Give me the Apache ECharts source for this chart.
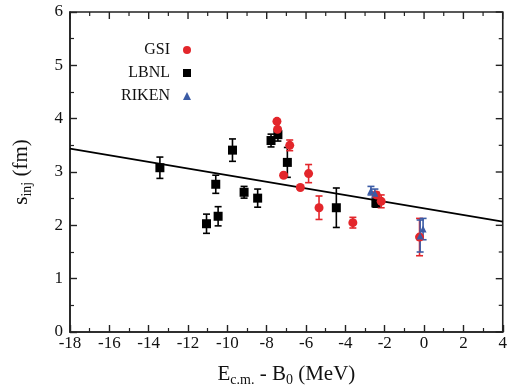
<!DOCTYPE html>
<html>
<head>
<meta charset="utf-8">
<script src="https://cdn.jsdelivr.net/npm/echarts@6/dist/echarts.min.js"></script>
<style>html,body{margin:0;padding:0;background:#fff}#c{width:510px;height:392px}</style>
</head>
<body>
<div id="c"></div>
<script>
// ---- data ----
var gsiX   = [-7.48, -7.45, -6.83, -7.14, -6.29, -5.87, -5.34, -3.62, -2.43, -2.18, -0.23];
var gsiY   = [3.95, 3.80, 3.50, 2.94, 2.71, 2.97, 2.33, 2.05, 2.57, 2.45, 1.78];
var gsiErr = [0.03, 0.03, 0.10, 0.03, 0.03, 0.17, 0.22, 0.10, 0.05, 0.12, 0.35];

var lbnlX   = [-13.43, -11.06, -10.59, -10.47, -9.74, -9.15, -8.46, -7.78, -7.43, -6.95, -4.46, -2.45];
var lbnlY   = [3.08, 2.03, 2.77, 2.17, 3.41, 2.62, 2.51, 3.59, 3.70, 3.18, 2.33, 2.42];
var lbnlErr = [0.20, 0.18, 0.17, 0.18, 0.21, 0.11, 0.17, 0.12, 0.12, 0.28, 0.37, 0.08];

var rikenX   = [-2.70, -2.50, -0.20, -0.05];
var rikenY   = [2.65, 2.60, 1.80, 1.93];
var rikenErr = [0.08, 0.08, 0.30, 0.20];

var fitX = [-18, 4];
var fitY = [3.44, 2.07];

var xTicks = [-18, -16, -14, -12, -10, -8, -6, -4, -2, 0, 2, 4];
var yTicks = [0, 1, 2, 3, 4, 5, 6];

// ---- chart ----
var RED = '#e3262b', BLACK = '#000000', BLUE = '#3b5ba5';
var FONT = '"Liberation Serif", "DejaVu Serif", serif';
var AX = '#222';
var X0 = xTicks[0], X1 = xTicks[xTicks.length - 1];
var Y0 = yTicks[0], Y1 = yTicks[yTicks.length - 1];

function pts(xs, ys) { return xs.map(function (x, i) { return [x, ys[i]]; }); }
function errPts(xs, ys, es) { return xs.map(function (x, i) { return [x, ys[i] - es[i], ys[i] + es[i]]; }); }

function errSeries(name, xs, ys, es, color) {
  return {
    type: 'custom', name: name + '_err', z: 3,
    data: errPts(xs, ys, es),
    renderItem: function (params, api) {
      var lo = api.coord([api.value(0), api.value(1)]);
      var hi = api.coord([api.value(0), api.value(2)]);
      var w = 3.5;
      var st = { stroke: color, lineWidth: 1.6 };
      return {
        type: 'group',
        children: [
          { type: 'line', shape: { x1: lo[0], y1: lo[1], x2: hi[0], y2: hi[1] }, style: st },
          { type: 'line', shape: { x1: lo[0] - w, y1: lo[1], x2: lo[0] + w, y2: lo[1] }, style: st },
          { type: 'line', shape: { x1: hi[0] - w, y1: hi[1], x2: hi[0] + w, y2: hi[1] }, style: st }
        ]
      };
    },
    silent: true
  };
}

// mirror ticks on top and right edges (major + minor), derived from tick arrays
var mirrorTicks = [];
xTicks.forEach(function (v, i) {
  mirrorTicks.push([0, v, 7]);
  if (i < xTicks.length - 1) mirrorTicks.push([0, (v + xTicks[i + 1]) / 2, 4]);
});
yTicks.forEach(function (v, i) {
  mirrorTicks.push([1, v, 7]);
  if (i < yTicks.length - 1) mirrorTicks.push([1, (v + yTicks[i + 1]) / 2, 4]);
});

var chart = echarts.init(document.getElementById('c'));
chart.setOption({
  animation: false,
  backgroundColor: '#fff',
  grid: { left: 70, right: 7, top: 12, bottom: 58, show: true, borderColor: AX, borderWidth: 1.6, backgroundColor: 'transparent' },
  xAxis: {
    type: 'value', min: X0, max: X1, interval: 2,
    axisLine: { show: true, onZero: false, lineStyle: { color: AX, width: 1.6 } },
    axisTick: { show: true, inside: true, length: 7, lineStyle: { color: AX, width: 1.4 } },
    minorTick: { show: true, splitNumber: 2, length: 4, lineStyle: { color: AX, width: 1.2 } },
    splitLine: { show: false },
    axisLabel: { color: '#111', fontFamily: FONT, fontSize: 17, margin: 3 },
    name: '{n|E}{s|c.m.}{n| - B}{s|0}{n| (MeV)}',
    nameLocation: 'middle', nameGap: 29,
    nameTextStyle: {
      rich: {
        n: { fontFamily: FONT, fontSize: 21, color: '#111' },
        s: { fontFamily: FONT, fontSize: 14, color: '#111', padding: [12, 0, 0, 0] }
      }
    }
  },
  yAxis: {
    type: 'value', min: Y0, max: Y1, interval: 1,
    axisLine: { show: true, onZero: false, lineStyle: { color: AX, width: 1.6 } },
    axisTick: { show: true, inside: true, length: 7, lineStyle: { color: AX, width: 1.4 } },
    minorTick: { show: true, splitNumber: 2, length: 4, lineStyle: { color: AX, width: 1.2 } },
    splitLine: { show: false },
    axisLabel: { color: '#111', fontFamily: FONT, fontSize: 17, margin: 7 },
    name: '{n|s}{s|inj}{n| (fm)}',
    nameLocation: 'middle', nameGap: 36,
    nameTextStyle: {
      rich: {
        n: { fontFamily: FONT, fontSize: 21, color: '#111' },
        s: { fontFamily: FONT, fontSize: 14, color: '#111', padding: [12, 0, 0, 0] }
      }
    }
  },
  legend: [
    { data: ['GSI'], right: 314, top: 37 },
    { data: ['LBNL'], right: 314, top: 60 },
    { data: ['RIKEN'], right: 314, top: 83 }
  ].map(function (l) {
    return Object.assign(l, {
      orient: 'vertical', align: 'right',
      itemWidth: 8, itemHeight: 8, itemGap: 8,
      textStyle: { fontFamily: FONT, fontSize: 16, color: '#111', padding: [0, 8, 0, 0] }
    });
  }),
  series: [
    {
      type: 'line', name: 'fit', data: pts(fitX, fitY), showSymbol: false, symbol: 'none',
      lineStyle: { color: '#000', width: 1.8 }, z: 1, silent: true
    },
    {
      type: 'custom', name: 'mirror', silent: true, z: 2, clip: false,
      data: mirrorTicks,
      renderItem: function (params, api) {
        var side = api.value(0), v = api.value(1), len = api.value(2);
        var p, shape;
        if (side === 0) {
          p = api.coord([v, Y1]);
          shape = { x1: p[0], y1: p[1], x2: p[0], y2: p[1] + len };
        } else {
          p = api.coord([X1, v]);
          shape = { x1: p[0], y1: p[1], x2: p[0] - len, y2: p[1] };
        }
        return { type: 'line', shape: shape, style: { stroke: AX, lineWidth: len > 5 ? 1.4 : 1.2 } };
      },
      encode: { x: 1, y: 1 }
    },
    errSeries('LBNL', lbnlX, lbnlY, lbnlErr, BLACK),
    errSeries('GSI', gsiX, gsiY, gsiErr, RED),
    errSeries('RIKEN', rikenX, rikenY, rikenErr, BLUE),
    {
      type: 'scatter', name: 'LBNL', data: pts(lbnlX, lbnlY), symbol: 'rect', symbolSize: 9,
      itemStyle: { color: BLACK, opacity: 1 }, z: 4
    },
    {
      type: 'scatter', name: 'GSI', data: pts(gsiX, gsiY), symbol: 'circle', symbolSize: 9,
      itemStyle: { color: RED, opacity: 1 }, z: 5
    },
    {
      type: 'scatter', name: 'RIKEN', data: pts(rikenX, rikenY), symbol: 'triangle', symbolSize: 7,
      itemStyle: { color: BLUE, opacity: 1 }, z: 6
    }
  ]
});
</script>
</body>
</html>
